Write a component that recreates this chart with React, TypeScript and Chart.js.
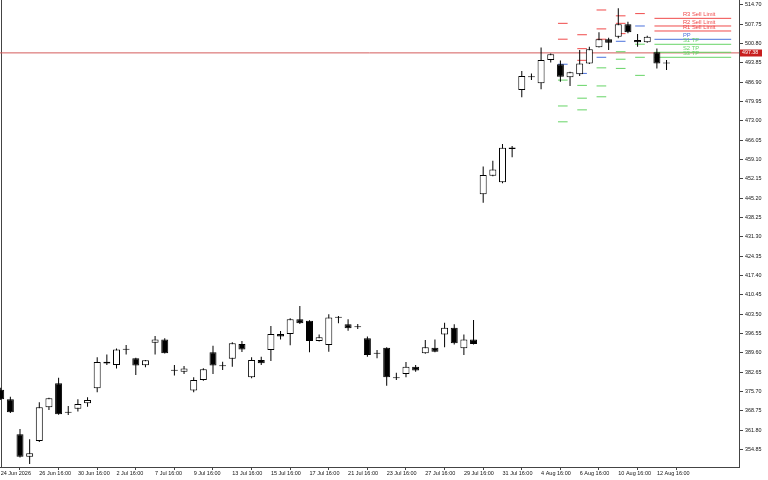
import React, { useEffect, useRef } from "react";
import { Chart, registerables } from "chart.js";

Chart.register(...registerables);

// ---- data -------------------------------------------------------------
const xTickLabels = [
  "24 Jun 2026", "26 Jun 16:00", "30 Jun 16:00", "2 Jul 16:00", "7 Jul 16:00",
  "9 Jul 16:00", "13 Jul 16:00", "15 Jul 16:00", "17 Jul 16:00", "21 Jul 16:00",
  "23 Jul 16:00", "27 Jul 16:00", "29 Jul 16:00", "31 Jul 16:00", "4 Aug 16:00",
  "6 Aug 16:00", "10 Aug 16:00", "12 Aug 16:00",
];

const yTickValues = [
  354.85, 361.8, 368.75, 375.7, 382.65, 389.6, 396.55, 403.5, 410.45, 417.4,
  424.35, 431.3, 438.25, 445.2, 452.15, 459.1, 466.05, 473.0, 479.95, 486.9,
  493.85, 500.8, 507.75, 514.7,
];

const opens = [
  376.3, 372.9, 360.3, 352.2, 357.9, 370.0, 378.6, 368.3, 369.5, 371.4,
  376.8, 386.4, 385.2, 390.7, 387.6, 385.1, 393.2, 394.4, 383.3, 382.8,
  376.0, 379.8, 389.8, 385.0, 387.4, 392.7, 380.8, 387.0, 390.6, 396.3,
  396.3, 401.6, 401.1, 393.8, 392.4, 402.2, 399.8, 399.1, 394.8, 389.5,
  391.4, 380.7, 382.0, 384.6, 389.4, 391.4, 396.2, 398.6, 391.2, 394.4,
  446.6, 453.2, 450.9, 463.4, 484.0, 488.6, 486.5, 494.8, 493.3, 488.6,
  489.7, 493.6, 499.4, 502.3, 503.2, 507.7, 502.0, 501.2, 497.6, 493.9,
];
const highs = [
  377.0, 373.8, 362.2, 358.5, 371.8, 373.4, 380.6, 370.5, 372.9, 373.6,
  388.0, 389.0, 391.1, 392.4, 387.8, 387.0, 395.6, 394.8, 385.2, 384.8,
  380.8, 384.0, 392.1, 386.4, 393.4, 393.8, 388.0, 388.2, 399.2, 397.4,
  402.0, 406.4, 401.3, 396.2, 403.4, 402.8, 401.6, 399.9, 395.4, 390.6,
  391.6, 382.4, 386.3, 385.2, 394.2, 394.4, 400.4, 399.8, 396.2, 401.4,
  456.5, 458.6, 464.6, 463.9, 490.9, 490.0, 499.3, 497.2, 494.6, 490.6,
  498.4, 499.6, 504.8, 502.8, 513.4, 508.6, 504.2, 503.5, 499.0, 494.8,
];
const lows = [
  372.6, 367.9, 351.9, 349.6, 357.5, 369.0, 367.3, 367.2, 368.5, 370.2,
  375.4, 385.2, 383.9, 389.0, 381.6, 384.4, 389.0, 389.3, 381.4, 382.0,
  375.4, 379.5, 382.0, 383.4, 384.6, 389.9, 380.4, 385.2, 386.6, 394.4,
  392.3, 399.9, 389.8, 393.6, 390.0, 400.2, 397.5, 398.1, 388.2, 387.6,
  377.7, 379.8, 380.8, 382.8, 389.2, 389.8, 391.6, 392.6, 388.8, 392.6,
  443.5, 453.0, 450.5, 459.9, 481.4, 487.6, 484.3, 493.9, 487.0, 485.5,
  489.1, 493.4, 499.3, 498.4, 502.6, 504.4, 499.6, 501.0, 491.8, 491.2,
];
const closes = [
  372.9, 368.2, 352.2, 353.5, 370.0, 373.2, 367.5, 368.0, 371.2, 372.6,
  386.3, 385.7, 390.8, 390.9, 385.0, 386.9, 394.4, 389.4, 383.1, 383.9,
  379.8, 383.7, 385.0, 384.7, 393.0, 390.8, 387.0, 385.8, 396.3, 395.4,
  401.6, 400.2, 393.8, 395.2, 402.3, 402.5, 398.4, 398.8, 388.8, 389.2,
  380.8, 380.4, 384.6, 383.2, 391.6, 390.0, 398.6, 393.0, 394.4, 392.7,
  453.5, 455.5, 463.3, 462.8, 489.1, 488.9, 494.8, 496.9, 488.8, 490.4,
  493.6, 498.7, 502.3, 501.0, 507.7, 504.8, 501.2, 503.2, 493.6, 493.6,
];

// daily pivot segments (time span in candle-index units)
const pivotStart = [57.75, 59.75, 61.75, 63.75, 65.75, 67.75];
const pivotEnd = [58.75, 60.75, 62.75, 64.75, 66.75, 75.7];
const r3Levels = [null, 503.9, 512.8, 510.7, null, 509.8];
const r2Levels = [508.0, 498.9, 506.0, 508.0, null, 507.05];
const r1Levels = [502.3, 494.7, 502.3, 504.3, 511.5, 505.25];
const ppLevels = [493.3, 490.0, 495.8, 501.55, 507.05, 502.26];
const s1Levels = [487.6, 485.7, 492.0, 497.8, 500.5, 500.47];
const s2Levels = [478.3, 481.1, 485.5, 495.1, 495.8, 497.6];
const s3Levels = [472.6, 476.9, 481.6, 491.8, 489.3, 495.8];
const pivotNames = ["R3 Sell Limit", "R2 Sell Limit", "R1 Sell Limit", "PP", "S1 TP", "S2 TP", "S3 TP"];

const currentPrice = 497.38;

// ---- styles -----------------------------------------------------------
const RED = "#f04a4a";
const BLUE = "#4a72dc";
const GREEN = "#66d466";
const AXIS = "#444444";
const FONT = "Liberation Sans";

const X_MIN = -0.0725;
const X_MAX = 76.51;
const Y_MIN = 348.53;
const Y_MAX = 516.39;
const LABEL_X = 70.7;

function segments(levels: (number | null)[]) {
  const pts: { x: number; y: number | null }[] = [];
  levels.forEach((v, d) => {
    if (v !== null) {
      pts.push({ x: pivotStart[d], y: v }, { x: pivotEnd[d], y: v });
    }
    pts.push({ x: pivotEnd[d] + 0.2, y: null });
  });
  return pts;
}

export default function App() {
  const ref = useRef<HTMLCanvasElement | null>(null);

  useEffect(() => {
    if (!ref.current) return;
    const idx = opens.map((_, i) => i);
    const bodyData = idx.map((i) => ({ x: i, y: [opens[i], closes[i]] }));
    const wickData = idx.map((i) => ({ x: i, y: [lows[i], highs[i]] }));
    const bodyColors = idx.map((i) => (closes[i] >= opens[i] ? "#ffffff" : "#000000"));

    const levelSets = [r3Levels, r2Levels, r1Levels, ppLevels, s1Levels, s2Levels, s3Levels];
    const levelColors = [RED, RED, RED, BLUE, GREEN, GREEN, GREEN];

    const pivotDatasets = levelSets.map((lv, k) => ({
      type: "line" as const,
      label: pivotNames[k],
      data: segments(lv),
      borderColor: levelColors[k],
      borderWidth: 1,
      pointRadius: 0,
      fill: false,
      spanGaps: false,
      tension: 0,
      order: 2,
    }));

    const overlay = {
      id: "overlay",
      beforeDatasetsDraw(chart: any) {
        const { ctx, chartArea } = chart;
        ctx.save();
        ctx.strokeStyle = AXIS;
        ctx.lineWidth = 1;
        ctx.beginPath();
        ctx.moveTo(chartArea.left + 1.5, chartArea.top);
        ctx.lineTo(chartArea.left + 1.5, chartArea.bottom);
        ctx.stroke();
        ctx.restore();
      },
      afterDatasetsDraw(chart: any) {
        const { ctx } = chart;
        const xs = chart.scales.x;
        const ys = chart.scales.y;
        const last = pivotStart.length - 1;
        ctx.save();
        ctx.font = `5.8px "${FONT}"`;
        ctx.textAlign = "left";
        ctx.textBaseline = "bottom";
        levelSets.forEach((lv, k) => {
          const v = lv[last];
          if (v === null) return;
          ctx.fillStyle = levelColors[k];
          ctx.fillText(pivotNames[k], xs.getPixelForValue(LABEL_X), ys.getPixelForValue(v) - 1);
        });
        ctx.restore();
      },
      afterDraw(chart: any) {
        const { ctx } = chart;
        const ys = chart.scales.y;
        const y = ys.getPixelForValue(currentPrice);
        ctx.save();
        ctx.fillStyle = "#c81e1e";
        ctx.fillRect(ys.left + 1, Math.round(y) - 3.5, 22, 7);
        ctx.fillStyle = "#ffffff";
        ctx.font = `5.3px "${FONT}"`;
        ctx.textAlign = "left";
        ctx.textBaseline = "middle";
        ctx.fillText(currentPrice.toFixed(2), ys.left + 3, Math.round(y));
        ctx.restore();
      },
    };

    const chart = new Chart(ref.current, {
      type: "bar",
      data: {
        datasets: [
          {
            type: "bar",
            label: "body",
            data: bodyData as any,
            backgroundColor: bodyColors,
            borderColor: "#000000",
            borderWidth: 1,
            borderSkipped: false,
            barThickness: 7,
            minBarLength: 1,
            grouped: false,
            inflateAmount: 0,
            order: 0,
          } as any,
          {
            type: "bar",
            label: "wick",
            data: wickData as any,
            backgroundColor: "#000000",
            borderWidth: 0,
            barThickness: 1,
            grouped: false,
            inflateAmount: 0,
            order: 1,
          } as any,
          ...(pivotDatasets as any[]),
          {
            type: "line",
            label: "price",
            data: [
              { x: X_MIN, y: currentPrice },
              { x: X_MAX, y: currentPrice },
            ],
            borderColor: "#d45c5c",
            borderWidth: 1,
            pointRadius: 0,
            fill: false,
            order: 3,
          } as any,
        ],
      },
      options: {
        responsive: false,
        devicePixelRatio: 1,
        animation: false,
        layout: { padding: 0 },
        plugins: {
          legend: { display: false },
          tooltip: { enabled: false },
          title: { display: false },
        },
        scales: {
          x: {
            type: "linear",
            min: X_MIN,
            max: X_MAX,
            offset: false,
            grid: { drawOnChartArea: false, drawTicks: true, tickLength: 3, color: AXIS },
            border: { display: true, color: AXIS },
            ticks: {
              autoSkip: false,
              maxRotation: 0,
              minRotation: 0,
              align: "start",
              padding: 0,
              color: "#111111",
              font: { family: FONT, size: 5.5 },
              callback: (_v: any, i: number) => xTickLabels[i] ?? "",
            },
            afterBuildTicks: (s: any) => {
              s.ticks = xTickLabels.map((_, k) => ({ value: k * 4 }));
            },
            afterFit: (s: any) => {
              s.height = 13;
              s.paddingLeft = 0;
              s.paddingRight = 0;
            },
          } as any,
          y: {
            type: "linear",
            position: "right",
            min: Y_MIN,
            max: Y_MAX,
            grid: { drawOnChartArea: false, drawTicks: true, tickLength: 4, color: AXIS },
            border: { display: true, color: AXIS },
            ticks: {
              autoSkip: false,
              padding: 2,
              color: "#111111",
              font: { family: FONT, size: 5.4 },
              callback: (v: any) => Number(v).toFixed(2),
            },
            afterBuildTicks: (s: any) => {
              s.ticks = yTickValues.map((v) => ({ value: v }));
            },
            afterFit: (s: any) => {
              s.width = 29;
              s.paddingTop = 0;
              s.paddingBottom = 0;
            },
          } as any,
        },
      },
      plugins: [overlay],
    });

    return () => chart.destroy();
  }, []);

  return (
    <div style={{ position: "absolute", left: 0, top: 0, width: 768, height: 480, background: "#ffffff" }}>
      <canvas ref={ref} width={768} height={480} style={{ width: 768, height: 480, display: "block" }} />
    </div>
  );
}
